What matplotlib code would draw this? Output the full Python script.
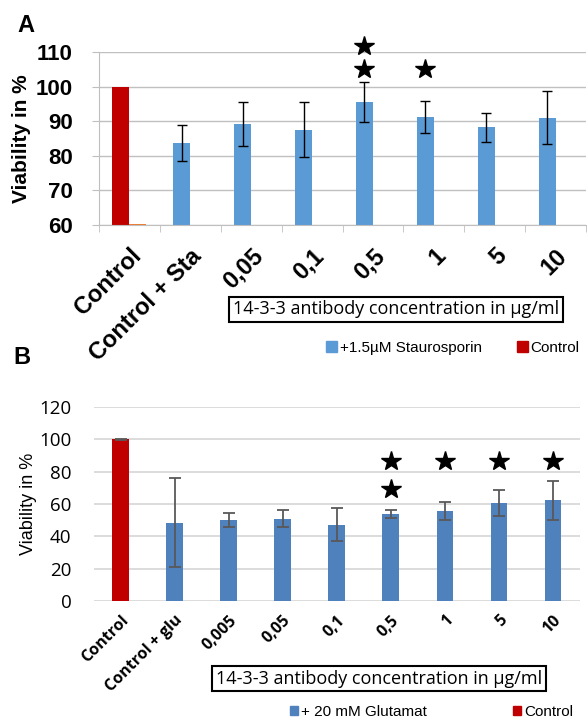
import numpy as np
import matplotlib.pyplot as plt
from matplotlib.patches import Patch

# Data
cats_a = ['Control', 'Control + Sta', '0,05', '0,1', '0,5', '1', '5', '10']
vals_a = [100, 83.8, 89.2, 87.6, 95.5, 91.3, 88.2, 91.0]
errs_a = [0, 5.2, 6.4, 8.0, 5.8, 4.6, 4.1, 7.7]
stars_a = [0, 0, 0, 0, 2, 1, 0, 0]

cats_b = ['Control', 'Control + glu', '0,005', '0,05', '0,1', '0,5', '1', '5', '10']
vals_b = [100, 48.4, 50.2, 50.8, 47.3, 53.7, 55.8, 60.7, 62.2]
errs_b = [0.3, 27.5, 4.5, 5.2, 10.0, 2.5, 5.5, 8.0, 12.0]
stars_b = [0, 0, 0, 0, 0, 2, 1, 1, 1]

box_text = '14-3-3 antibody concentration in µg/ml'

RED = '#C00000'
BLUE_A = '#5B9BD5'
BLUE_B = '#4F81BD'
W, H = 587, 720

fig = plt.figure(figsize=(W / 100, H / 100), dpi=100)

# ---------- Panel A ----------
ax = fig.add_axes([99 / W, 1 - 225 / H, 487 / W, 173 / H])
n = len(cats_a)
x = np.arange(n)
w = 0.28
cols = [RED] + [BLUE_A] * (n - 1)
ax.bar(x - w / 2, np.array(vals_a) - 60, w, bottom=60, color=cols, zorder=2)
ax.bar([w / 2], [0.3], w, bottom=60, color='#ED7D31', zorder=2)
ax.errorbar(x[1:] - w / 2, vals_a[1:], yerr=errs_a[1:], fmt='none', ecolor='black',
            elinewidth=1, capsize=3.5, capthick=1, zorder=3)
for i, s in enumerate(stars_a):
    for k in range(s):
        ax.plot(i - w / 2, 105 + 6.7 * k, marker='*', color='black', ms=15,
                clip_on=False, zorder=4)
ax.set_ylim(60, 110)
ax.set_xlim(-0.5, n - 0.5)
ax.set_yticks(range(60, 111, 10))
ax.yaxis.grid(True, color='#c0c0c0', lw=1)
ax.set_axisbelow(True)
for sp in ['top', 'right']:
    ax.spines[sp].set_visible(False)
for sp in ['left', 'bottom']:
    ax.spines[sp].set_color('#bfbfbf')
ax.set_xticks(x)
ax.set_xticklabels(cats_a, rotation=45, ha='right', va='top', rotation_mode='anchor',
                   fontfamily='Liberation Sans', fontweight='bold', fontsize=17)
ax.set_xticks(np.arange(-0.5, n, 1), minor=True)
ax.tick_params(axis='x', which='major', length=0, pad=14)
ax.tick_params(axis='x', which='minor', length=5, color='#bfbfbf')
ax.tick_params(axis='y', length=5, color='#bfbfbf', pad=14)
for t in ax.get_yticklabels():
    t.set_fontfamily('Liberation Sans')
    t.set_fontweight('bold')
    t.set_fontsize(16)
fig.text(22 / W, 1 - 139 / H, 'Viability in %', rotation=90, ha='center', va='center',
         fontfamily='Liberation Sans', fontweight='bold', fontsize=15)
fig.text(17 / W, 1 - 26 / H, 'A', ha='left', va='center', fontfamily='Liberation Sans',
         fontweight='bold', fontsize=17)
fig.text(396 / W, 1 - 309.5 / H, box_text, ha='center', va='center',
         fontfamily='Open Sans', fontsize=13,
         bbox=dict(boxstyle='square,pad=0.2', fc='white', ec='black', lw=1.5))
fig.legend(handles=[Patch(color=BLUE_A), Patch(color=RED)],
           labels=['+1.5µM Staurosporin', 'Control'], loc='center left',
           bbox_to_anchor=(326 / W, 1 - 348 / H), ncol=2, frameon=False,
           borderpad=0, borderaxespad=0, handlelength=0.7, handleheight=0.7,
           handletextpad=0.2, columnspacing=2.3,
           prop={'family': 'Liberation Sans', 'size': 11})

# ---------- Panel B ----------
bx = fig.add_axes([93.6 / W, 1 - 601.3 / H, 486.4 / W, 194.6 / H])
m = len(cats_b)
xb = np.arange(m)
wb = 0.31
cols_b = [RED] + [BLUE_B] * (m - 1)
bx.bar(xb, vals_b, wb, color=cols_b, zorder=2)
bx.errorbar(xb, vals_b, yerr=errs_b, fmt='none', ecolor='#595959', elinewidth=1.3,
            capsize=4, capthick=1.3, zorder=3)
for i, s in enumerate(stars_b):
    for k in range(s):
        bx.plot(i, 86.5 - 17.1 * k, marker='*', color='black', ms=15, zorder=4)
bx.set_ylim(0, 120)
bx.set_xlim(-0.5, m - 0.5)
bx.set_yticks(range(0, 121, 20))
bx.yaxis.grid(True, color='#d9d9d9', lw=1.3)
bx.set_axisbelow(True)
for sp in bx.spines.values():
    sp.set_visible(False)
bx.set_xticks(xb)
bx.set_xticklabels(cats_b, rotation=45, ha='right', va='top', rotation_mode='anchor',
                   fontfamily='Open Sans', fontweight='bold', fontsize=11.5)
bx.tick_params(axis='x', length=0, pad=8)
bx.tick_params(axis='y', length=0, pad=16)
for t in bx.get_yticklabels():
    t.set_fontfamily('Open Sans')
    t.set_fontsize(13.5)
fig.text(28.5 / W, 1 - 504 / H, 'Viability in %', rotation=90, ha='center', va='center',
         fontfamily='Liberation Sans', fontsize=13)
fig.text(13 / W, 1 - 358 / H, 'B', ha='left', va='center', fontfamily='Liberation Sans',
         fontweight='bold', fontsize=17)
fig.text(379 / W, 1 - 678.5 / H, box_text, ha='center', va='center',
         fontfamily='Open Sans', fontsize=13,
         bbox=dict(boxstyle='square,pad=0.2', fc='white', ec='black', lw=1.5))
fig.legend(handles=[Patch(color=BLUE_B), Patch(color=RED)],
           labels=['+ 20 mM Glutamat', 'Control'], loc='center left',
           bbox_to_anchor=(290 / W, 1 - 712 / H), ncol=2, frameon=False,
           borderpad=0, borderaxespad=0, handlelength=0.55, handleheight=0.55,
           handletextpad=0.2, columnspacing=5.6,
           prop={'family': 'Liberation Sans', 'size': 11})

fig.savefig('out.png', dpi=100)
